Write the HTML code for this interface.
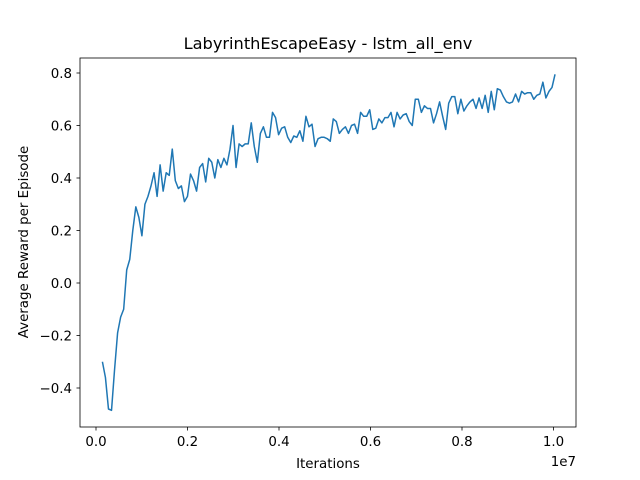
<!DOCTYPE html>
<html><head><meta charset="utf-8"><style>
body{margin:0;background:#fff}
svg{display:block;font-family:"DejaVu Sans","Liberation Sans",sans-serif}
</style></head><body>
<svg id="chart" width="640" height="480" xmlns="http://www.w3.org/2000/svg">
<rect x="0" y="0" width="640" height="480" fill="#fff"/>
<text x="328" y="49" font-size="16.2" text-anchor="middle">LabyrinthEscapeEasy - lstm_all_env</text>
<g id="xt"></g>
<g id="yt"></g>
<text x="328" y="468" font-size="13.4" text-anchor="middle">Iterations</text>
<text x="0" y="0" font-size="13.4" text-anchor="middle" transform="translate(28,242) rotate(-90)">Average Reward per Episode</text>
<text x="576" y="466" font-size="13.4" text-anchor="end">1e7</text>
<path id="series" fill="none" stroke="#1f77b4" stroke-width="1.5" stroke-linejoin="round"/>
<rect x="80" y="58" width="496" height="369" fill="none" stroke="#000" stroke-width="0.8"/>
</svg>
<script>
const rewards=[-0.30,-0.36,-0.48,-0.485,-0.33,-0.19,-0.13,-0.10,0.05,0.09,0.20,0.29,0.25,0.18,0.30,0.33,0.37,0.42,0.33,0.45,0.35,0.42,0.41,0.51,0.39,0.36,0.37,0.31,0.33,0.415,0.39,0.35,0.44,0.455,0.385,0.475,0.46,0.40,0.47,0.44,0.475,0.45,0.51,0.60,0.44,0.53,0.52,0.53,0.53,0.61,0.52,0.46,0.57,0.595,0.555,0.555,0.65,0.63,0.565,0.59,0.595,0.555,0.535,0.56,0.555,0.58,0.54,0.635,0.595,0.605,0.52,0.55,0.555,0.555,0.55,0.54,
0.625,0.615,0.57,0.585,0.595,0.57,0.60,0.605,0.57,0.65,0.635,0.635,0.66,0.585,0.59,0.625,0.61,0.63,0.63,0.65,0.595,0.65,0.625,0.64,0.645,0.615,0.60,0.70,0.70,0.65,0.675,0.665,0.665,0.61,0.645,0.69,0.635,0.585,0.685,0.71,0.71,0.645,0.70,0.655,0.675,0.69,0.70,0.665,0.705,0.665,0.715,0.65,0.73,0.66,0.74,0.735,0.71,0.69,0.685,0.69,0.72,0.69,0.73,0.72,0.725,0.725,0.70,0.715,0.72,0.765,0.705,0.73,0.745,0.795];
const iterStart=140000, iterStep=66400;
const xTicks=[0,0.2,0.4,0.6,0.8,1.0];
const xTickLabels=["0.0","0.2","0.4","0.6","0.8","1.0"];
const yTicks=[-0.4,-0.2,0,0.2,0.4,0.6,0.8];
const yTickLabels=["−0.4","−0.2","0.0","0.2","0.4","0.6","0.8"];
const X=v=>96+v*457.5/1e7;
const Y=v=>283-v*262.5;
const NS="http://www.w3.org/2000/svg";
const xt=document.getElementById('xt'), yt=document.getElementById('yt');
xTicks.forEach((t,i)=>{
 const x=X(t*1e7);
 const l=document.createElementNS(NS,'line');
 l.setAttribute('x1',x);l.setAttribute('x2',x);l.setAttribute('y1',427);l.setAttribute('y2',430.5);l.setAttribute('stroke','#000');l.setAttribute('stroke-width','0.8');
 
 
 xt.appendChild(l);
 const tx=document.createElementNS(NS,'text');
 tx.setAttribute('x',x);tx.setAttribute('y',446);tx.setAttribute('font-size','13.4');tx.setAttribute('text-anchor','middle');
 tx.textContent=xTickLabels[i];
 
 
 xt.appendChild(tx);
});
yTicks.forEach((t,i)=>{
 const y=Y(t);
 const l=document.createElementNS(NS,'line');
 l.setAttribute('x1',76.5);l.setAttribute('x2',80);l.setAttribute('y1',y);l.setAttribute('y2',y);l.setAttribute('stroke','#000');l.setAttribute('stroke-width','0.8');
 
 
 yt.appendChild(l);
 const tx=document.createElementNS(NS,'text');
 tx.setAttribute('x',72);tx.setAttribute('y',y+5);tx.setAttribute('font-size','13.4');tx.setAttribute('text-anchor','end');
 tx.textContent=yTickLabels[i];
 
 
 yt.appendChild(tx);
});
let d='';
rewards.forEach((r,i)=>{d+=(i?'L':'M')+X(iterStart+i*iterStep).toFixed(2)+','+Y(r).toFixed(2);});
document.getElementById('series').setAttribute('d',d);
</script>
</body></html>
